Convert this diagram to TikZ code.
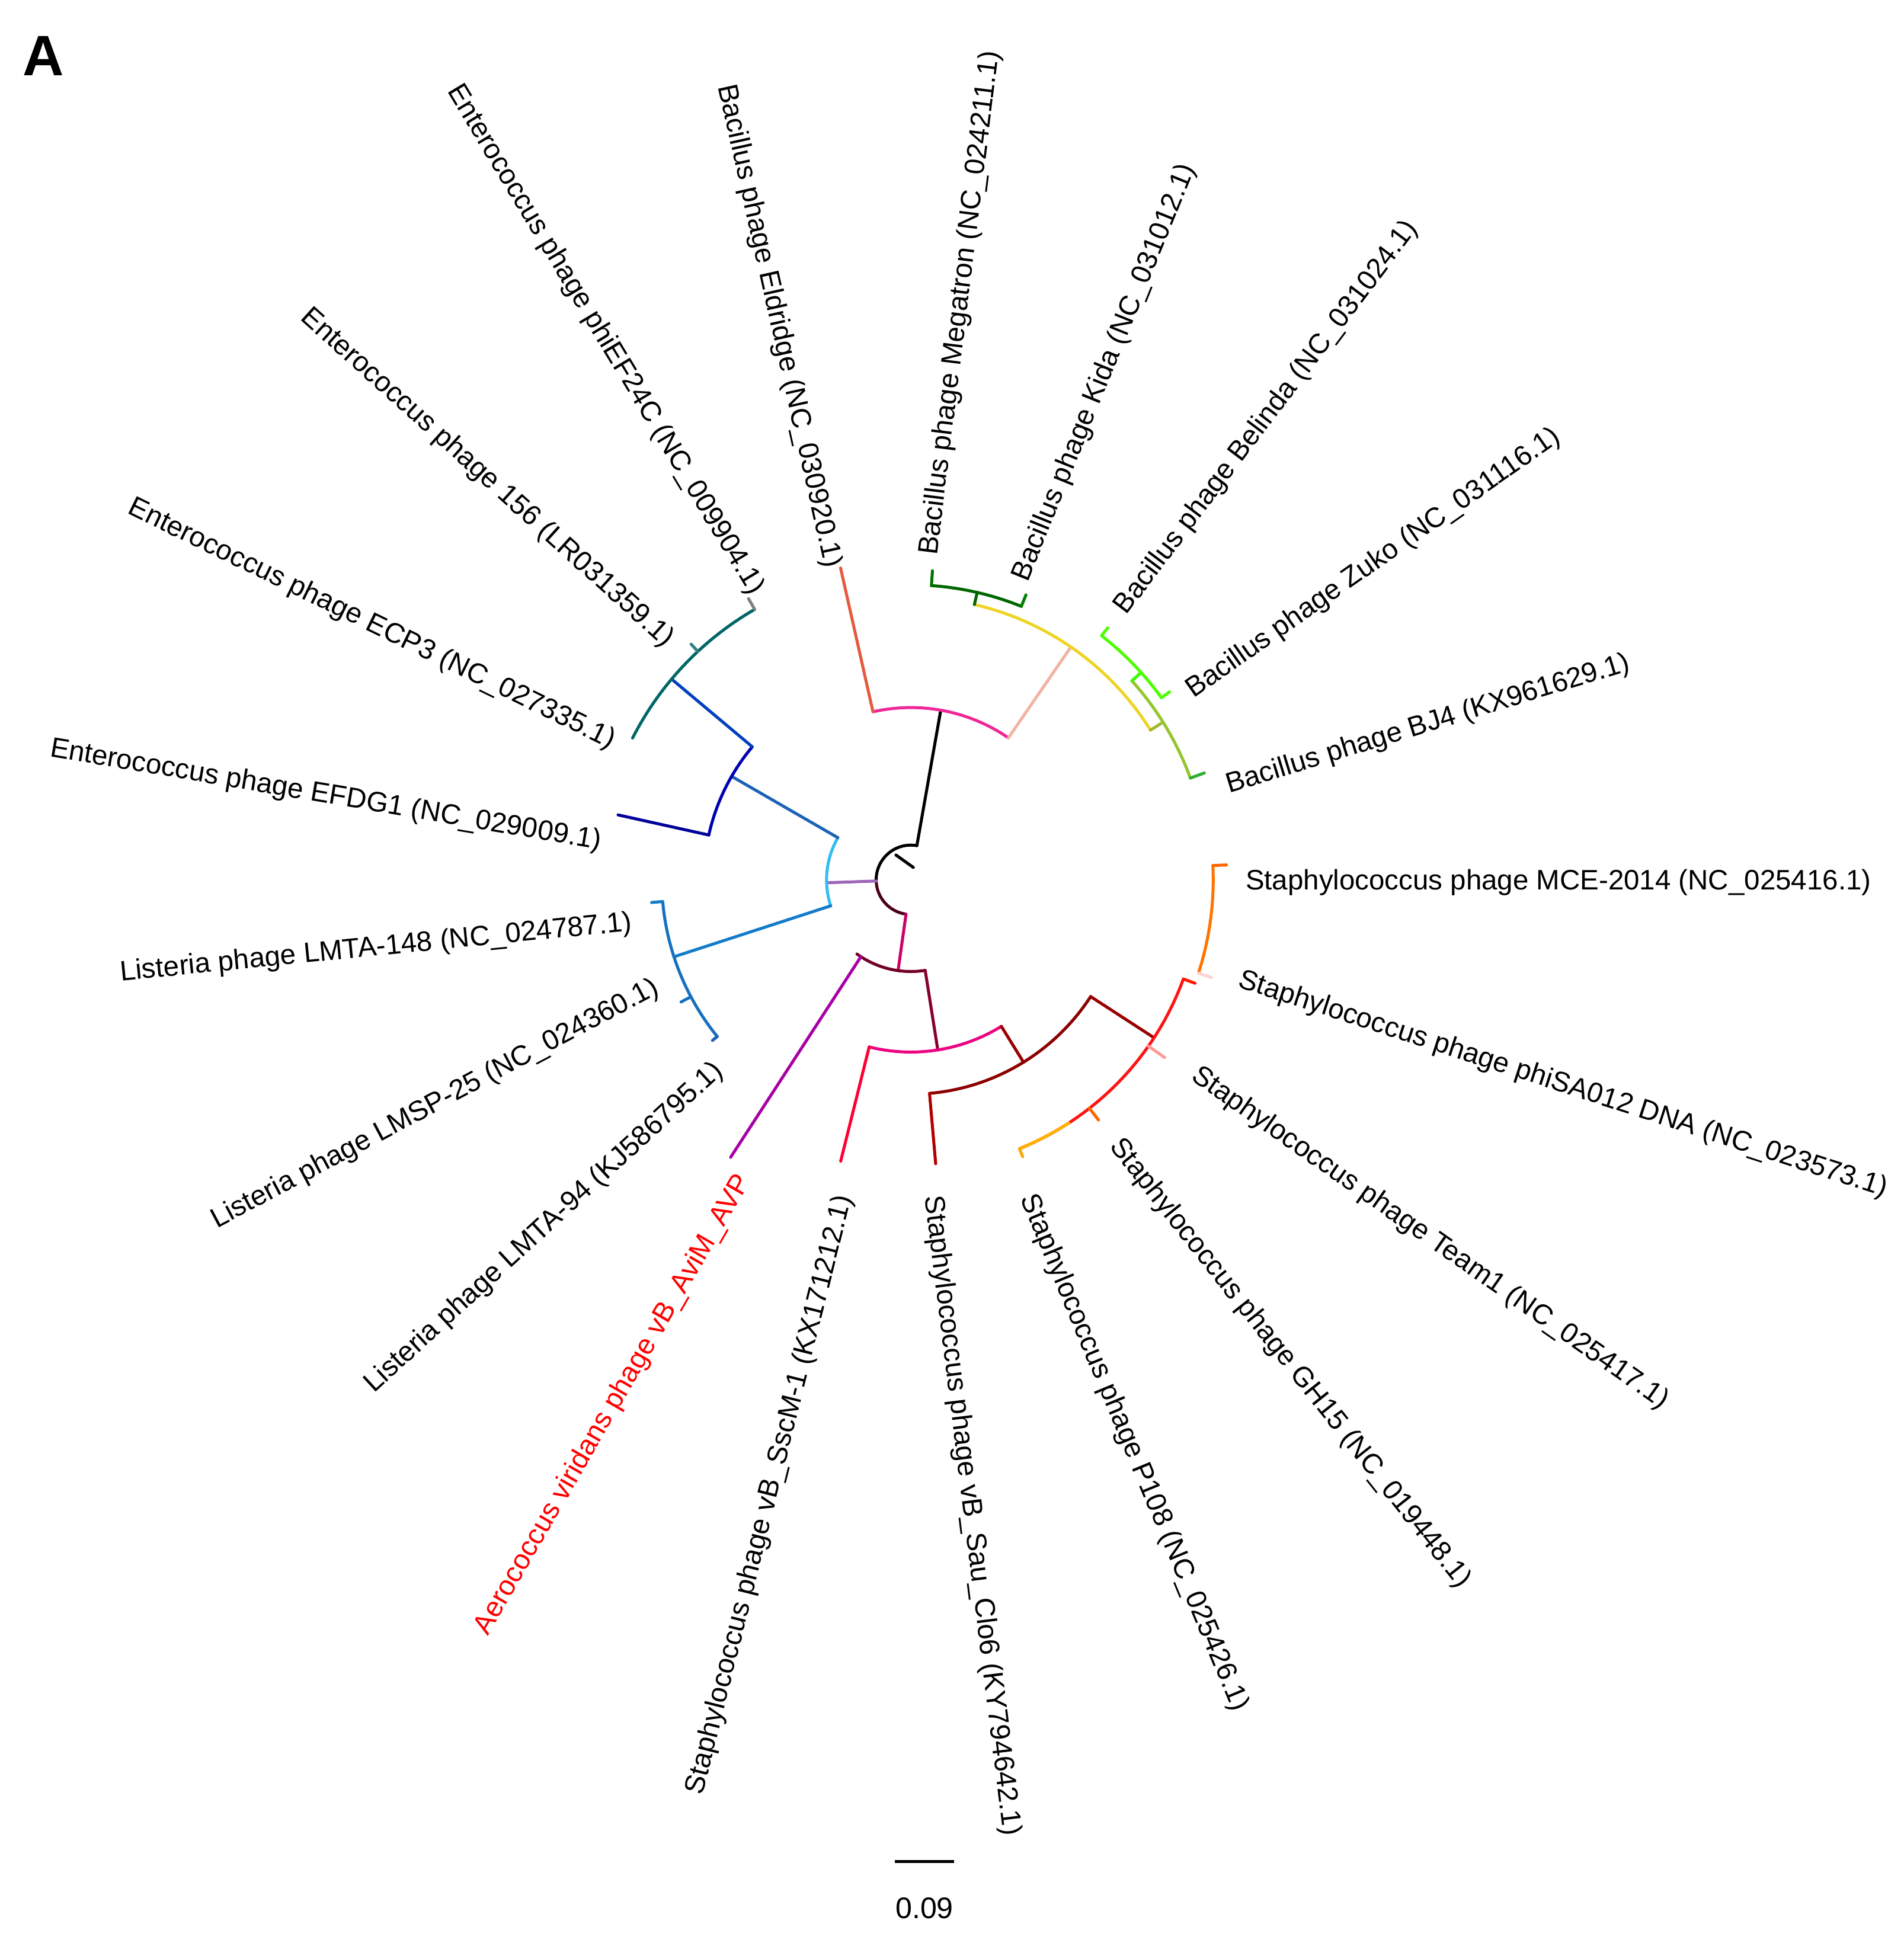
\documentclass[tikz,border=0pt]{standalone}
\usepackage{fontspec}
\setmainfont{Liberation Sans}
\begin{document}
\begin{tikzpicture}[x=1pt,y=-1pt,
  lbl/.style={font=\fontsize{22.7}{26}\selectfont,inner sep=2pt},
  br/.style={line width=2.4pt,line cap=round}]
\useasboundingbox (0,0) rectangle (1536,1568);
\newcommand{\rd}[4]{\draw[br,color=#1] (#2:#3) -- (#2:#4);}
\newcommand{\ac}[4]{\draw[br,color=#1] (#3:#2) arc[start angle=#3,end angle=#4,radius=#2];}
\begin{scope}[shift={(735,710)},yscale=-1]
% root
\ac{black}{28}{80}{182}
\ac{black!60!purple}{28}{182}{262}
\draw[br,black] (-12,20) -- (2,10);
\rd{black}{80}{28}{139}
% Bacillus clade
\ac{magenta!80!pink}{139}{102.7}{55.5}
\rd{red!50!brown!80!pink}{102.7}{139}{258}
\rd{pink!80!brown}{55.5}{139}{228}
\ac{yellow!70!brown}{228}{77}{32}
\rd{green!40!black}{77}{228}{238}
\ac{green!40!black}{238}{86}{68}
\rd{green!45!black}{86}{238}{250}
\rd{green!50!black}{68}{238}{248}
\rd{yellow!70!green!80!black}{32}{228}{240}
\ac{yellow!60!green!90!black}{240}{42}{20}
\rd{green!60!black!80}{20}{240}{252}
\rd{green!80!yellow}{42}{240}{250}
\ac{green!70!yellow}{250}{52}{36}
\rd{green!70!yellow}{52}{250}{258}
\rd{green!70!yellow}{36}{250}{258}
% Staph clade
\rd{purple!80!magenta}{262}{28}{74}
\ac{purple!60!black}{74}{234}{279}
\rd{violet!70!magenta}{237}{74}{267}
\rd{purple!70!black}{279}{74}{139}
\ac{magenta!90!red}{139}{256}{301.7}
\rd{red!80!magenta}{256}{139}{234}
\rd{red!60!black}{301.7}{139}{173}
\ac{red!55!black}{173}{275}{327}
\rd{red!70!black}{275}{173}{230}
\rd{red!60!black}{327}{173}{234}
\ac{red!90!pink}{234}{292}{340}
\ac{orange!60!yellow}{234}{292}{303}
\rd{orange!70!yellow}{292}{234}{241}
\rd{orange!80!red}{308}{234}{246}
\rd{pink!80!red}{325}{234}{250}
\rd{red!80!orange}{340}{234}{244}
\ac{orange!90!red}{244}{342}{362.7}
\rd{pink!70!white}{342}{244}{255}
\rd{orange!80!red}{2.7}{244}{255}
% Left clade
\rd{magenta!60!cyan}{182}{28}{68}
\ac{cyan!80!white}{68}{150}{198}
\rd{cyan!40!blue}{150}{68}{167}
\ac{blue!70!black}{167}{140}{167.5}
\rd{blue!60!black}{167.5}{167}{242}
\rd{blue!50!teal}{140}{167}{252}
\ac{teal!80!black}{252}{153}{120}
\rd{gray}{120}{252}{262}
\rd{teal!60!gray}{133}{252}{260}
\rd{cyan!60!blue}{198}{68}{201}
\ac{cyan!50!blue}{201}{185}{219}
\rd{cyan!60!blue}{185}{201}{210}
\rd{cyan!50!blue}{208}{201}{210}
\rd{cyan!40!blue}{219}{201}{206}
\end{scope}
% labels
\node[lbl,anchor=west,rotate=0] (l1) at (1003,712) {Staphylococcus phage MCE-2014 (NC\_025416.1)};
\node[lbl,anchor=west,rotate=-18] (l2) at (998,790) {Staphylococcus phage phiSA012 DNA (NC\_023573.1)};
\node[lbl,anchor=west,rotate=-35] (l3) at (962,865) {Staphylococcus phage Team1 (NC\_025417.1)};
\node[lbl,anchor=west,rotate=-51.6] (l4) at (898,920) {Staphylococcus phage GH15 (NC\_019448.1)};
\node[lbl,anchor=west,rotate=-67.5] (l5) at (828,963) {Staphylococcus phage P108 (NC\_025426.1)};
\node[lbl,anchor=west,rotate=-83] (l6) at (752,963) {Staphylococcus phage vB\_Sau\_Clo6 (KY794642.1)};
\node[lbl,anchor=east,rotate=76] (l7) at (682,963) {Staphylococcus phage vB\_SscM-1 (KX171212.1)};
\node[lbl,anchor=east,rotate=60,text=red] (l8) at (602,948) {Aerococcus viridans phage vB\_AviM\_AVP};
\node[lbl,anchor=east,rotate=42.5] (l9) at (582,860) {Listeria phage LMTA-94 (KJ586795.1)};
\node[lbl,anchor=east,rotate=28] (l10) at (532,795) {Listeria phage LMSP-25 (NC\_024360.1)};
\node[lbl,anchor=east,rotate=5.6] (l11) at (512,745) {Listeria phage LMTA-148 (NC\_024787.1)};
\node[lbl,anchor=east,rotate=-9.6] (l12) at (487,680) {Enterococcus phage EFDG1 (NC\_029009.1)};
\node[lbl,anchor=east,rotate=-26] (l13) at (497,600) {Enterococcus phage ECP3 (NC\_027335.1)};
\node[lbl,anchor=east,rotate=-42] (l14) at (542,520) {Enterococcus phage 156 (LR031359.1)};
\node[lbl,anchor=east,rotate=-59] (l15) at (612,480) {Enterococcus phage phiEF24C (NC\_009904.1)};
\node[lbl,anchor=east,rotate=-77.5] (l16) at (672,460) {Bacillus phage Eldridge (NC\_030920.1)};
\node[lbl,anchor=west,rotate=83] (l17) at (750,450) {Bacillus phage Megatron (NC\_024211.1)};
\node[lbl,anchor=west,rotate=68] (l18) at (823,470) {Bacillus phage Kida (NC\_031012.1)};
\node[lbl,anchor=west,rotate=53] (l19) at (903,495) {Bacillus phage Belinda (NC\_031024.1)};
\node[lbl,anchor=west,rotate=35] (l20) at (958,560) {Bacillus phage Zuko (NC\_031116.1)};
\node[lbl,anchor=west,rotate=17] (l21) at (988,635) {Bacillus phage BJ4 (KX961629.1)};
% panel letter and scale bar
\node[font=\fontsize{46}{50}\selectfont\bfseries] (A) at (35,45) {A};
\coordinate (s1) at (722,1502);
\coordinate (s2) at (770,1502);
\draw[line width=2.4pt] (s1) -- (s2);
\node[lbl,font=\fontsize{24}{28}\selectfont] (sc) at (746,1540) {0.09};
\end{tikzpicture}
\end{document}
